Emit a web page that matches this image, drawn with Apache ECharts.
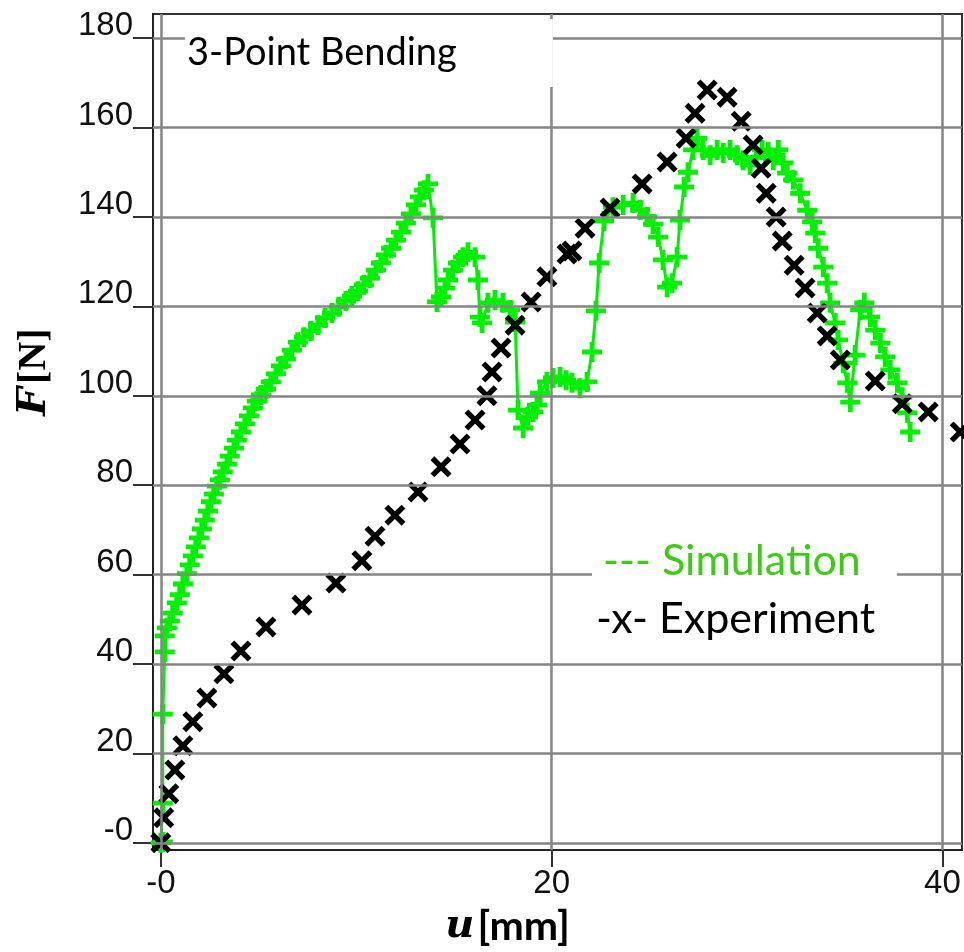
<!DOCTYPE html>
<html>
<head>
<meta charset="utf-8">
<script src="https://cdn.jsdelivr.net/npm/echarts@6/dist/echarts.min.js"></script>
<style>
  html, body { margin: 0; padding: 0; background: #fff; }
  #chart { width: 964px; height: 952px; }
</style>
</head>
<body>
<div id="chart"></div>
<script>
// axis ticks
var xTicks = [0, 20, 40];
var xTickLabels = ['-0', '20', '40'];
var yTicks = [0, 20, 40, 60, 80, 100, 120, 140, 160, 180];
var yTickLabels = ['-0', '20', '40', '60', '80', '100', '120', '140', '160', '180'];

// simulation (green, "+")
var simU = [0, 0.10, 0.10, 0.10, 0.20, 0.20, 0.31, 0.46, 0.61, 0.82, 0.97, 1.13, 1.33, 1.48, 1.64, 1.79, 1.95, 2.10, 2.25, 2.41,
  2.56, 2.71, 2.87, 3.02, 3.17, 3.38, 3.53, 3.74, 3.89, 4.10, 4.30, 4.51, 4.71, 4.92, 5.12, 5.38, 5.63, 5.89, 6.14, 6.40,
  6.71, 7.01, 7.32, 7.68, 8.04, 8.40, 8.76, 9.11, 9.47, 9.78, 10.09, 10.39, 10.70, 11.01, 11.26, 11.52, 11.78, 12.03, 12.29, 12.54,
  12.80, 13.06, 13.26, 13.47, 13.67, 13.93, 14.13, 14.34, 14.54, 14.70, 14.95, 15.21, 15.46, 15.72, 16.08, 16.23, 16.33, 16.44, 16.74, 17.10,
  17.51, 17.87, 18.13, 18.28, 18.54, 18.79, 19.05, 19.25, 19.41, 19.76, 20.07, 20.43, 20.74, 21.04, 21.45, 21.81, 22.07, 22.27, 22.43, 22.68,
  23.14, 23.66, 24.17, 24.53, 24.88, 25.19, 25.45, 25.70, 25.91, 26.16, 26.42, 26.57, 26.78, 26.98, 27.24, 27.44, 27.75, 28.11, 28.47, 28.78,
  29.13, 29.49, 29.80, 30.16, 30.47, 30.77, 31.08, 31.34, 31.60, 31.85, 32.05, 32.36, 32.72, 33.08, 33.33, 33.49, 33.64, 33.90, 34.10, 34.25,
  34.51, 34.66, 34.92, 35.13, 35.28, 35.53, 35.79, 36.00, 36.30, 36.56, 36.82, 37.07, 37.33, 37.69, 37.94, 38.20, 38.35];
var simF = [0, 0.2, 8.9, 28.8, 42.7, 46.3, 48.1, 49.6, 51.4, 53.7, 55.5, 57.9, 60.2, 62.2, 64.2, 66.2, 68.2, 70.2, 72.2, 74.2,
  76.3, 78.0, 79.8, 81.2, 83.0, 84.7, 86.5, 88.3, 90.1, 91.9, 93.7, 95.5, 97.3, 98.8, 100.2, 101.5, 103.1, 104.9, 106.7, 108.2,
  110.2, 112.0, 113.1, 114.5, 115.8, 117.4, 118.5, 119.9, 121.2, 122.3, 123.4, 124.8, 126.3, 128.1, 129.7, 131.5, 133.0, 134.8, 136.6, 138.6,
  140.7, 142.7, 144.5, 146.0, 147.4, 139.8, 121.0, 122.1, 124.1, 125.9, 128.1, 129.7, 131.0, 132.1, 131.0, 125.9, 117.6, 116.3, 120.8, 121.4,
  120.8, 119.2, 116.5, 96.8, 92.8, 95.3, 96.4, 97.9, 100.6, 103.1, 104.0, 104.2, 103.5, 102.9, 101.7, 103.1, 109.8, 119.0, 129.7, 139.1,
  142.2, 142.7, 143.1, 141.6, 140.0, 138.4, 135.5, 130.4, 124.3, 125.2, 131.0, 139.3, 146.7, 150.0, 155.0, 157.6, 155.0, 153.8, 155.0, 154.3,
  155.0, 153.8, 152.7, 151.6, 153.4, 155.0, 154.6, 152.7, 155.0, 152.1, 149.8, 148.3, 145.3, 141.5, 138.9, 136.4, 133.0, 128.8, 125.2, 120.8,
  116.3, 112.5, 107.3, 102.9, 98.6, 109.1, 119.2, 120.8, 117.6, 114.7, 111.8, 108.7, 105.8, 102.9, 99.7, 96.2, 91.9];

// experiment (black, "x")
var expU = [0, 0.15, 0.41, 0.72, 1.13, 1.64, 2.36, 3.23, 4.10, 5.38, 7.22, 8.96, 10.29, 10.96, 11.98, 13.16, 14.34, 15.31, 16.08, 16.69,
  16.95, 17.41, 18.13, 18.95, 19.76, 20.79, 21.04, 21.71, 22.99, 24.63, 25.91, 26.88, 27.34, 27.96, 28.98, 29.70, 30.31, 30.72, 30.98, 31.49,
  31.80, 32.41, 32.97, 33.59, 34.10, 34.77, 36.56, 37.94, 39.27, 40.91];
var expF = [0, 5.6, 11.0, 16.3, 21.7, 27.1, 32.4, 37.8, 42.9, 48.3, 53.2, 58.1, 63.1, 68.6, 73.3, 78.5, 84.1, 89.2, 94.6, 100.0,
  105.3, 110.7, 115.8, 121.0, 126.6, 131.7, 132.4, 137.5, 142.0, 147.4, 152.3, 157.6, 163.2, 168.4, 166.8, 161.4, 156.1, 150.9, 145.3, 140.0,
  134.6, 129.2, 124.1, 118.5, 113.4, 108.0, 103.3, 98.2, 96.4, 91.9];

var plusPath = 'path://M3.8,0H6.2V3.8H10V6.2H6.2V10H3.8V6.2H0V3.8H3.8Z';
var crossPath = 'path://M1.8,0L5,3.2L8.2,0L10,1.8L6.8,5L10,8.2L8.2,10L5,6.8L1.8,10L0,8.2L3.2,5L0,1.8Z';

var chart = echarts.init(document.getElementById('chart'));

var gridLines = [];
xTicks.forEach(function (v) { gridLines.push({ xAxis: v }); });
yTicks.forEach(function (v) { gridLines.push({ yAxis: v }); });

var option = {
  animation: false,
  backgroundColor: '#fff',
  title: [
    {
      text: '3-Point Bending',
      left: 185, top: 19,
      backgroundColor: '#fff',
      padding: [11, 96, 11, 2],
      textStyle: { fontFamily: 'Lato', fontWeight: 'normal', fontSize: 38, lineHeight: 46, color: '#000' }
    },
    {
      text: '--- Simulation',
      left: 592, top: 536,
      backgroundColor: '#fff',
      padding: [0, 36, 0, 11],
      textStyle: { fontFamily: 'Lato', fontWeight: 'normal', fontSize: 43, lineHeight: 50, color: '#3dcc14' }
    },
    {
      text: '-x- Experiment',
      left: 596, top: 594,
      padding: 0,
      textStyle: { fontFamily: 'Lato', fontWeight: 'normal', fontSize: 43, lineHeight: 50, color: '#000' }
    }
  ],
  grid: {
    left: 153, top: 14, width: 809, height: 836,
    show: true, borderColor: '#333', borderWidth: 2, backgroundColor: 'transparent'
  },
  xAxis: {
    type: 'value',
    min: -0.4, max: 41,
    axisLine: { show: true, onZero: false, lineStyle: { color: '#222', width: 2 } },
    splitLine: { show: false },
    axisTick: { show: true, customValues: xTicks, length: 17, lineStyle: { color: '#333', width: 2 } },
    axisLabel: {
      customValues: xTicks,
      margin: 18,
      fontFamily: 'Liberation Sans', fontSize: 33, lineHeight: 32, color: '#111',
      formatter: function (v) { return xTickLabels[xTicks.indexOf(v)]; }
    },
    name: '{i|u} {b|[mm]}',
    nameLocation: 'middle',
    nameGap: 56,
    nameTextStyle: {
      padding: [0, 100, 0, 0],
      rich: {
        i: { fontFamily: 'DejaVu Serif', fontStyle: 'italic', fontWeight: 'bold', fontSize: 40, color: '#000' },
        b: { fontFamily: 'Lato', fontWeight: 'bold', fontSize: 41, color: '#000' }
      }
    }
  },
  yAxis: {
    type: 'value',
    min: -1.6, max: 185.4,
    axisLine: { show: true, onZero: false, lineStyle: { color: '#222', width: 2 } },
    splitLine: { show: false },
    axisTick: { show: true, customValues: yTicks, length: 20, lineStyle: { color: '#333', width: 2 } },
    axisLabel: {
      customValues: yTicks,
      margin: 20,
      fontFamily: 'Liberation Sans', fontSize: 33, lineHeight: 24, color: '#111',
      verticalAlign: 'bottom',
      formatter: function (v) { return yTickLabels[yTicks.indexOf(v)]; }
    },
    name: '{i|F} {b|[N]}',
    nameLocation: 'middle',
    nameRotate: 90,
    nameGap: 98,
    nameTextStyle: {
      padding: [0, 0, 0, 120],
      rich: {
        i: { fontFamily: 'DejaVu Serif', fontStyle: 'italic', fontWeight: 'bold', fontSize: 40, color: '#000' },
        b: { fontFamily: 'Liberation Serif', fontWeight: 'bold', fontSize: 40, color: '#000' }
      }
    }
  },
  series: [
    {
      name: 'grid',
      type: 'line',
      data: [],
      z: 1,
      silent: true,
      markLine: {
        silent: true,
        symbol: 'none',
        animation: false,
        label: { show: false },
        emphasis: { disabled: true },
        lineStyle: { color: '#858585', width: 2.5, type: 'solid' },
        data: gridLines
      }
    },
    {
      name: 'Simulation',
      type: 'line',
      z: 3,
      data: simU.map(function (u, i) { return [u, simF[i]]; }),
      showAllSymbol: true,
      symbol: plusPath,
      symbolSize: 20,
      clip: false,
      lineStyle: { color: '#00f000', width: 3 },
      itemStyle: { color: '#00f000', borderWidth: 0 }
    },
    {
      name: 'Experiment',
      type: 'scatter',
      z: 4,
      data: expU.map(function (u, i) { return [u, expF[i]]; }),
      symbol: crossPath,
      symbolSize: 21,
      clip: false,
      itemStyle: { color: '#000', borderWidth: 0, opacity: 1 }
    }
  ]
};

chart.setOption(option);
</script>
</body>
</html>
